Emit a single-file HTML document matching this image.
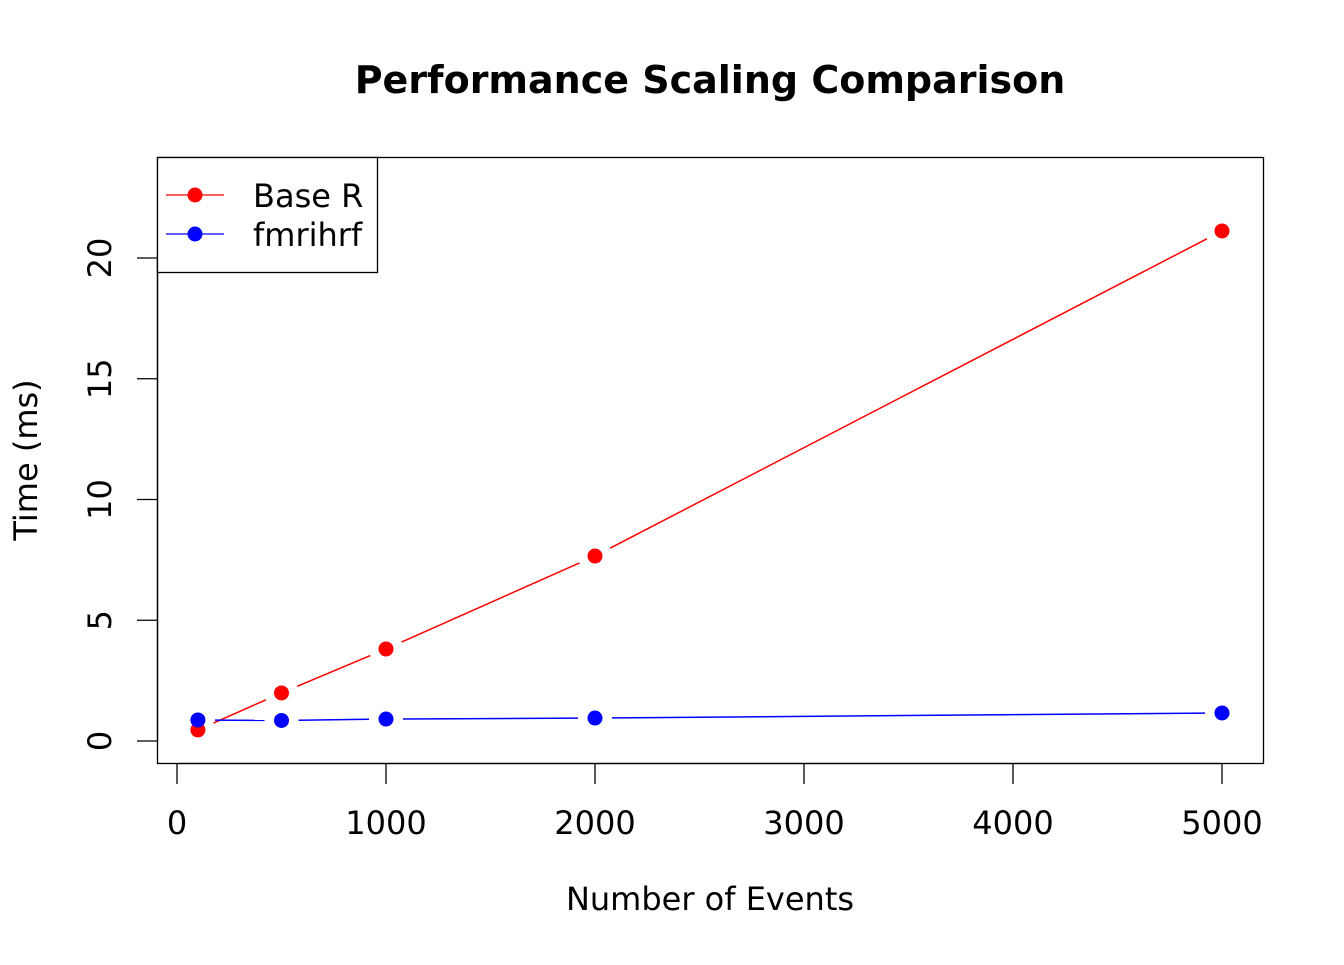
<!DOCTYPE html>
<html><head><meta charset="utf-8"><style>
html,body{margin:0;padding:0;background:#fff}
svg text{font-family:"DejaVu Sans","Liberation Sans",sans-serif}
</style></head><body>
<svg id="chart" width="1344" height="960" viewBox="0 0 1344 960" xmlns="http://www.w3.org/2000/svg">
<rect width="1344" height="960" fill="#fff"/>
<text x="710" y="93" text-anchor="middle" font-size="38" font-weight="bold">Performance Scaling Comparison</text>
<rect x="157.5" y="157.5" width="1106" height="606" fill="none" stroke="#000" stroke-width="1.3"/>
<g id="xaxis"></g>
<g id="yaxis"></g>
<text x="710" y="910" text-anchor="middle" font-size="32">Number of Events</text>
<text transform="translate(37,460) rotate(-90)" text-anchor="middle" font-size="32">Time (ms)</text>
<g id="series"></g>
<g>
<rect x="157.5" y="157.5" width="220" height="115" fill="#fff" stroke="#000" stroke-width="1.3"/>
<g>
<line x1="166" y1="195" x2="224" y2="195" stroke="#ff0000" stroke-width="1.3"/>
<circle cx="195" cy="195" r="7.5" fill="#ff0000"/>
<text x="253" y="207" font-size="32">Base R</text></g>
<g>
<line x1="166" y1="234" x2="224" y2="234" stroke="#0000ff" stroke-width="1.3"/>
<circle cx="195" cy="234" r="7.5" fill="#0000ff"/>
<text x="253" y="246" font-size="32">fmrihrf</text></g>
</g>
</svg>
<script>
const events = [100, 500, 1000, 2000, 5000];
const baseR = [0.46, 1.99, 3.81, 7.66, 21.12];
const fmrihrf = [0.87, 0.85, 0.91, 0.95, 1.16];
const xTicks = [0, 1000, 2000, 3000, 4000, 5000];
const yTicks = [0, 5, 10, 15, 20];

const NS = "http://www.w3.org/2000/svg";
function X(v){ return 177 + v * (1222 - 177) / 5000; }
function Y(v){ return 741 - v * (741 - 258) / 20; }
function mk(tag, attrs, parent){
  const e = document.createElementNS(NS, tag);
  for (const k in attrs) e.setAttribute(k, attrs[k]);
  parent.appendChild(e);
  return e;
}
const xa = document.getElementById('xaxis');
mk('line', {x1: X(0), x2: X(5000), y1: 763.5, y2: 763.5, stroke: '#000', 'stroke-width': 1.3}, xa);
xTicks.forEach(t => {
  const l = mk('line', {x1: X(t), x2: X(t), y1: 763.5, y2: 784, stroke: '#000', 'stroke-width': 1.3}, xa);
  
  
  const tx = mk('text', {x: X(t), y: 834, 'text-anchor': 'middle', 'font-size': 32}, xa);
  tx.textContent = t;
  
  
});
const ya = document.getElementById('yaxis');
mk('line', {x1: 157.5, x2: 157.5, y1: Y(0), y2: Y(20), stroke: '#000', 'stroke-width': 1.3}, ya);
yTicks.forEach(t => {
  const l = mk('line', {x1: 137, x2: 157.5, y1: Y(t), y2: Y(t), stroke: '#000', 'stroke-width': 1.3}, ya);
  
  
  const tx = mk('text', {transform: `translate(111,${Y(t)}) rotate(-90)`, 'text-anchor': 'middle', 'font-size': 32}, ya);
  tx.textContent = t;
  
  
});
const sg = document.getElementById('series');
function drawSeries(vals, color, name){
  const g = mk('g', {}, sg);
  
  
  const gap = 17;
  for (let i = 0; i < events.length - 1; i++){
    const x1 = X(events[i]), y1 = Y(vals[i]), x2 = X(events[i+1]), y2 = Y(vals[i+1]);
    const d = Math.hypot(x2 - x1, y2 - y1);
    if (d <= 2 * gap) continue;
    const ux = (x2 - x1) / d, uy = (y2 - y1) / d;
    const l = mk('line', {x1: x1 + ux*gap, y1: y1 + uy*gap, x2: x2 - ux*gap, y2: y2 - uy*gap, stroke: color, 'stroke-width': 1.5}, g);
    
    
  }
  events.forEach((e, i) => {
    const c = mk('circle', {cx: X(e), cy: Y(vals[i]), r: 7.5, fill: color}, g);
    
    
  });
}
drawSeries(baseR, '#ff0000', 'base-r-series');
drawSeries(fmrihrf, '#0000ff', 'fmrihrf-series');
</script>
</body></html>
